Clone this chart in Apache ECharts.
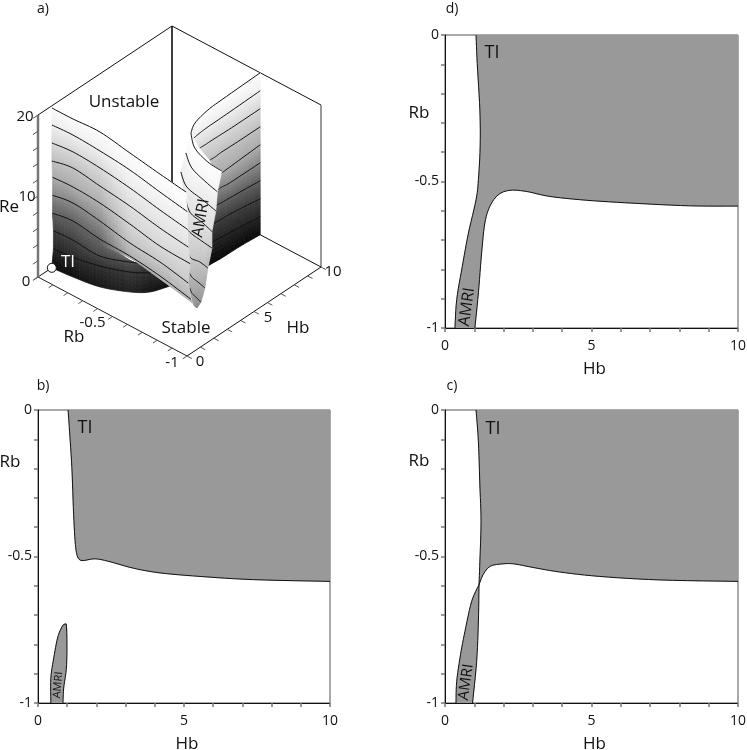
<!DOCTYPE html>
<html><head><meta charset="utf-8">
<style>html,body{margin:0;padding:0;background:#fff;overflow:hidden}#c{width:747px;height:750px}</style>
<script src="https://cdn.jsdelivr.net/npm/echarts@6/dist/echarts.min.js"></script>
</head><body><div id="c"></div>
<script>
// ---------- 2D stability maps: [Hb, Rb] ----------
const dBoundary = [[1.06,0],[1.10,-0.097],[1.19,-0.256],[1.20,-0.38],[1.14,-0.494],[1.06,-0.5625],[0.80,-0.676],[0.59,-0.79],[0.40,-0.903],[0.34,-1]];
const dLower = [[1.02,-1],[1.14,-0.88],[1.25,-0.744],[1.36,-0.642],[1.53,-0.585],[1.82,-0.545],[2.22,-0.53],[2.78,-0.534],[3.58,-0.551],[4.83,-0.564],[6.42,-0.574],[8.35,-0.583],[10,-0.584]];
const cLeft = [[1.06,0],[1.14,-0.108],[1.19,-0.256],[1.23,-0.38],[1.19,-0.517],[1.16,-0.597]];
const cUpper = [[1.16,-0.597],[1.30,-0.562],[1.53,-0.534],[1.88,-0.526],[2.33,-0.525],[3.01,-0.5375],[3.92,-0.553],[5.28,-0.568],[7.33,-0.58],[10,-0.585]];
const cAmriLeft = [[1.16,-0.597],[0.91,-0.653],[0.68,-0.756],[0.53,-0.835],[0.40,-0.926],[0.375,-1]];
const cAmriRight = [[0.94,-1],[1.08,-0.858],[1.14,-0.72],[1.16,-0.597]];
const bTi = [[1.03,0],[1.08,-0.072],[1.16,-0.197],[1.22,-0.356],[1.28,-0.459],[1.36,-0.502],[1.51,-0.514],[1.96,-0.508],[2.47,-0.518],[3.27,-0.54],[4.18,-0.556],[5.55,-0.568],[7.38,-0.579],[10,-0.585]];
const bAmri = [[0.44,-1],[0.44,-0.915],[0.54,-0.846],[0.67,-0.778],[0.80,-0.744],[0.91,-0.73],[0.98,-0.744],[0.98,-0.869],[0.88,-0.949],[0.855,-1]];
const hbLabels = [0,5,10];
const rbLabels = [0,-0.5,-1];
const corner = [[10,0]];

// ---------- 3D neutral surface, panel a: rows are contour levels, columns run along each contour ----------
const levelRe = [20,17.78,15.56,13.33,11.11,8.89,6.67];
const wallRe = levelRe.concat([6.0]);
const wallHb = [[.90,.91,.99,.67,.35,.09],[.96,1.03,.93,.73,.35,.03],[.96,1.10,.99,.73,.35,.05],[.96,1.22,.99,.73,.35,.10],[1.09,1.16,1.05,.73,.35,.25],[1.09,1.28,1.05,.67,.48,.10],[1.09,1.28,1.05,.98,.73,.30],[1.11,1.31,1.08,1.20,.88,.45]];
const wallRb = [[-.013,-.153,-.327,-.557,-.787,-.985],[-.007,-.142,-.332,-.551,-.787,-1],[-.007,-.137,-.327,-.551,-.787,-1],[-.007,-.125,-.327,-.551,-.787,-1],[0,-.131,-.321,-.551,-.787,-1],[0,-.12,-.321,-.557,-.775,-1],[0,-.12,-.321,-.528,-.753,-1],[0,-.118,-.319,-.509,-.739,-1]];
const wallLift = [0,.03,.06,.5,.55,.55];
const bowlRe = [6.67,4.44,2.22,0];
const bowlHb = [[1.09,1.28,1.05,.73,.89,1.31],[1.15,1.22,1.11,1.73,2.27,2.68],[1.15,1.28,1.61,2.23,2.83,3.31],[1.03,1.16,1.43,2.11,2.77,3.81]];
const bowlRb = [[0,-.12,-.321,-.551,-.671,-.767],[0,-.125,-.315,-.461,-.547,-.644],[0,-.12,-.27,-.416,-.497,-.588],[0,-.131,-.287,-.427,-.502,-.543]];
const bowlLift = [0,.03,.06,.1,.05,0];
const foldRe = [20,17.78,15.56,13.33,11.11,8.89,6.67,4.44,2.22];
const foldHb = [[3.94,3.13,2.69,2.59],[3.65,2.91,2.50,2.27],[3.42,2.68,2.40,2.15],[3.24,2.34,2.09,1.86],[2.34,2.16,2.05,1.95],[2.12,1.75,1.80,1.69],[2.03,1.72,1.61,1.47],[2.09,1.85,1.73,1.58],[2.29,2.26,2.23,2.20]];
const foldRb = [[-.672,-.771,-.898,-1],[-.664,-.771,-.902,-1],[-.651,-.758,-.89,-1],[-.694,-.809,-.918,-1],[-.782,-.838,-.915,-.992],[-.809,-.869,-.924,-.988],[-.824,-.877,-.929,-.988],[-.831,-.866,-.904,-.951],[-.841,-.85,-.859,-.868]];
const foldLift = [.55,.55,.5,.45];
const backRe = [20,17.78,15.56,13.33,11.11,8.89,6.67,4.44,2.22,0];
const backHb = [[3.94,4.70,5.94,7.13,10],[4.85,5.36,6.07,7.41,10],[5.55,5.90,6.58,7.86,10],[6.26,6.61,7.15,8.31,10],[6.65,6.97,7.29,8.31,10],[6.90,7.22,7.60,8.63,10],[6.92,7.31,7.79,8.75,10],[6.86,7.34,7.91,8.88,10],[6.50,7.08,7.69,8.82,10],[6.09,6.67,7.28,8.62,10]];
const backRb = [[-.672,-.631,-.606,-.6,-.592],[-.61,-.604,-.6,-.598,-.592],[-.587,-.589,-.589,-.592,-.592],[-.591,-.593,-.59,-.592,-.592],[-.609,-.607,-.605,-.6,-.592],[-.587,-.585,-.591,-.592,-.592],[-.564,-.571,-.574,-.581,-.592],[-.557,-.561,-.563,-.575,-.592],[-.555,-.557,-.563,-.576,-.592],[-.572,-.574,-.579,-.582,-.592]];
const backLift = [0,0,0,0,0];
const shadeRe = [0,2.22,4.44,6.67,8.89,11.11,13.33,15.56,17.78,20];
const shadeGray = [8,35,60,95,135,170,192,215,238,252];
const reTicks = [0,2,4,6,8,10,12,14,16,18,20];
const rbTicks = [0,-.1,-.2,-.3,-.4,-.5,-.6,-.7,-.8,-.9,-1];
const hbTicks = [0,1,2,3,4,5,6,7,8,9,10];
const tiPoint = [1.03,0,0];

// ---------- projection of the 3D box onto the hidden axes of panel a ----------
function view(hb, rb, re){
  const r = -rb;
  return [(13.4*hb + 149*r)/285, (79 - 79*r + 8.9*hb + 8.1*re)/330];
}
function lerp(a,b,t){return a+(b-a)*t;}
function cr(row,j,t){
  const n=row.length, a=row[Math.max(j-1,0)], b=row[j], c=row[j+1], d=row[Math.min(j+2,n-1)];
  const t2=t*t,t3=t2*t;
  return .5*(2*b+(c-a)*t+(2*a-5*b+4*c-d)*t2+(3*b-a-3*c+d)*t3);
}
function grayAt(re, lift){
  let i=0; while(i<shadeRe.length-2 && re>shadeRe[i+1]) i++;
  const g = lerp(shadeGray[i],shadeGray[i+1],(re-shadeRe[i])/(shadeRe[i+1]-shadeRe[i]));
  const v = Math.round(g+(255-g)*lift);
  return 'rgb('+v+','+v+','+v+')';
}
function sheet(api, Re, Hb, Rb, Lift, contourRows, contourCols){
  const kids=[], pt=(h,r,e)=>api.coord(view(h,r,e));
  const N=5, M=8, cols=Hb[0].length;
  for(let i=0;i<Re.length-1;i++) for(let s=0;s<N;s++) for(let j=0;j<cols-1;j++) for(let u=0;u<M;u++){
    const q=(a,b)=>{
      const ta=(s+a)/N, tb=(u+b)/M;
      const h=lerp(cr(Hb[i],j,tb),cr(Hb[i+1],j,tb),ta), r=lerp(cr(Rb[i],j,tb),cr(Rb[i+1],j,tb),ta);
      return pt(h,r,lerp(Re[i],Re[i+1],ta));
    };
    const c=grayAt(lerp(Re[i],Re[i+1],(s+.5)/N),lerp(Lift[j],Lift[j+1],(u+.5)/M));
    kids.push({type:'polygon',shape:{points:[q(0,0),q(0,1),q(1,1),q(1,0)]},style:{fill:c,stroke:c,lineWidth:.7}});
  }
  contourRows.forEach(i=>{
    const n=contourCols?contourCols[i]||cols:cols;
    const pts=[];
    for(let j=0;j<n-1;j++)for(let u=0;u<M;u++)pts.push(pt(cr(Hb[i],j,u/M),cr(Rb[i],j,u/M),Re[i]));
    pts.push(pt(Hb[i][n-1],Rb[i][n-1],Re[i]));
    kids.push({type:'polyline',shape:{points:pts},style:{fill:null,stroke:'#111',lineWidth:1}});
  });
  return {type:'group',children:kids};
}
function seg(api,a,b,color,w){
  const p=api.coord(view.apply(null,a)),q=api.coord(view.apply(null,b));
  return {type:'line',shape:{x1:p[0],y1:p[1],x2:q[0],y2:q[1]},style:{stroke:color,lineWidth:w}};
}
function label(api,h,r,e,dx,dy,t){
  const p=api.coord(view(h,r,e));
  return {type:'text',x:p[0]+dx,y:p[1]+dy,style:{text:t,font:'15px "Open Sans"',fill:'#111',textAlign:'center',textVerticalAlign:'middle',align:'center',verticalAlign:'middle'}};
}
function boxRender(params,api){
  const k=[
    seg(api,[0,0,20],[10,0,20],'#111',1), seg(api,[10,0,20],[10,-1,20],'#111',1),
    seg(api,[10,0,20],[10,0,0],'#111',1.6), seg(api,[10,-1,20],[10,-1,0],'#777',1.5),
    seg(api,[0,0,0],[10,0,0],'#111',1), seg(api,[10,0,0],[10,-1,0],'#111',1),
    seg(api,[0,0,0],[0,-1,0],'#222',1), seg(api,[0,-1,0],[10,-1,0],'#111',1),
    seg(api,[0,0,0],[0,0,20],'#777',2.5)
  ];
  reTicks.forEach(t=>k.push(seg(api,[0,0,t],[-.38,0,t],'#555',1)));
  rbTicks.forEach(t=>k.push(seg(api,[0,t,0],[-.32,t,0],'#555',1)));
  hbTicks.forEach(t=>k.push(seg(api,[t,-1,0],[t,-1.033,0],'#555',1)));
  k.push(label(api,0,0,20,-13,2,'20'),label(api,0,0,10,-11,1,'10'),label(api,0,0,0,-12,5,'0'));
  k.push(label(api,0,-.5,0,-20,6,'-0.5'),label(api,0,-1,0,-15,7,'-1'));
  k.push(label(api,0,-1,0,13,6,'0'),label(api,5,-1,0,14,6,'5'),label(api,10,-1,0,12,5,'10'));
  return {type:'group',children:k};
}
function sample(list){
  const xs=list.map(p=>p[0]),ys=list.map(p=>p[1]),out=[];
  for(let j=0;j<list.length-1;j++)for(let u=0;u<6;u++)out.push([cr(xs,j,u/6),cr(ys,j,u/6)]);
  out.push(list[list.length-1]);
  return out;
}
function fillSeries(i,pieces,extra){
  const outline=[].concat.apply([],pieces.map(sample)).concat(extra||[]);
  return {type:'custom',xAxisIndex:i,yAxisIndex:i,data:[[0,0]],silent:true,z:2,clip:true,
    renderItem:(p,api)=>({type:'polygon',shape:{points:outline.map(q=>api.coord(q))},style:{fill:'#999',stroke:'#999',lineWidth:.5}})};
}
function curve(i,list){return {type:'line',xAxisIndex:i,yAxisIndex:i,data:sample(list),showSymbol:false,smooth:false,lineStyle:{color:'#111',width:1},silent:true,z:3};}
function sheetSeries(fn,z){return {type:'custom',xAxisIndex:0,yAxisIndex:0,renderItem:fn,data:[[0,0]],clip:false,silent:true,z:z};}

const grids=[
  {left:38,top:26,width:285,height:330,show:false,outerBoundsMode:'none'},
  {left:445,top:35,width:293,height:293,show:true,borderColor:'#555',borderWidth:1,outerBoundsMode:'none'},
  {left:38,top:410,width:292,height:293,show:true,borderColor:'#555',borderWidth:1,outerBoundsMode:'none'},
  {left:445,top:410,width:293,height:293,show:true,borderColor:'#555',borderWidth:1,outerBoundsMode:'none'}
];
const font='"Open Sans"';
function xA(i){return {gridIndex:i,type:'value',min:0,max:10,interval:1,position:'bottom',name:'Hb',nameLocation:'middle',nameGap:33,nameTextStyle:{fontFamily:font,fontSize:17,color:'#111',padding:[0,0,0,6]},
  axisLine:{show:true,onZero:false,lineStyle:{color:'#111',width:1}},axisTick:{show:true,length:4,lineStyle:{color:'#777',width:1.5}},splitLine:{show:false},
  axisLabel:{margin:11,fontFamily:font,fontSize:14,color:'#111',hideOverlap:false,showMinLabel:true,showMaxLabel:true,formatter:v=>hbLabels.indexOf(v)>=0?String(v):''}};}
function yA(i){return {gridIndex:i,type:'value',min:-1,max:0,interval:.1,axisLine:{show:true,onZero:false,lineStyle:{color:'#111',width:1}},axisTick:{show:true,length:4,lineStyle:{color:'#777',width:1.5}},splitLine:{show:false},
  axisLabel:{margin:6,fontFamily:font,fontSize:14,color:'#111',hideOverlap:false,showMinLabel:true,showMaxLabel:true,formatter:v=>{const h=rbLabels.find(t=>Math.abs(t-v)<1e-6);return h===undefined?'':String(h);}}};}
const hidden=(i)=>({gridIndex:i,type:'value',min:0,max:1,show:false});

function T(x,y,text,size,opt){
  opt=opt||{};
  return {type:'text',x:x,y:y,rotation:opt.rot||0,z:50,silent:true,style:{text:text,font:size+'px "Open Sans"',fill:opt.fill||'#111',textAlign:'center',textVerticalAlign:'middle',align:'center',verticalAlign:'middle'}};
}
const rad=Math.PI/180;
const texts=[
  T(43,9,'a)',14),T(452,9,'d)',14),T(43,386,'b)',14),T(452,386,'c)',14),
  T(9,207,'Re',17),T(74,337,'Rb',17),T(298,328,'Hb',17),T(124,102,'Unstable',17),T(186,328,'Stable',17),
  T(68,262,'TI',17,{fill:'#fff'}),T(201,218,'AMRI',16,{rot:80*rad}),
  T(419,113,'Rb',17),T(492,53,'TI',18),T(467,307,'AMRI',16,{rot:82*rad}),
  T(10,462,'Rb',17),T(85,428,'TI',18),T(58,685,'AMRI',11,{rot:85*rad}),
  T(419,461,'Rb',17),T(493,429,'TI',18),T(466,682,'AMRI',15,{rot:82*rad})
];

const option={
  animation:false,backgroundColor:'#fff',
  grid:grids,
  xAxis:[hidden(0),xA(1),xA(2),xA(3)],
  yAxis:[hidden(0),yA(1),yA(2),yA(3)],
  graphic:{elements:texts},
  series:[
    sheetSeries(boxRender,1),
    sheetSeries((p,api)=>sheet(api,backRe,backHb,backRb,backLift,[0,1,2,3,4,5,6,7,8]),2),
    sheetSeries((p,api)=>sheet(api,foldRe,foldHb,foldRb,foldLift,[0,1,2,3,4,5,6,7]),3),
    sheetSeries((p,api)=>sheet(api,bowlRe,bowlHb,bowlRb,bowlLift,[1,2],[0,5,5]),4),
    sheetSeries((p,api)=>sheet(api,wallRe,wallHb,wallRb,wallLift,[0,1,2,3,4,5,6]),5),
    {type:'scatter',xAxisIndex:0,yAxisIndex:0,data:[view.apply(null,tiPoint)],symbolSize:9,itemStyle:{color:'#fff',opacity:1,borderColor:'#111',borderWidth:1},silent:true,z:6},
    fillSeries(1,[dBoundary,dLower],corner),curve(1,dBoundary),curve(1,dLower),
    fillSeries(2,[bTi],corner),curve(2,bTi),
    fillSeries(2,[bAmri]),curve(2,bAmri),
    fillSeries(3,[cLeft,cUpper],corner),curve(3,cLeft),curve(3,cUpper),
    fillSeries(3,[cAmriLeft,cAmriRight]),curve(3,cAmriLeft),curve(3,cAmriRight)
  ]
};
echarts.init(document.getElementById('c'),null,{renderer:'canvas'}).setOption(option);
</script></body></html>
